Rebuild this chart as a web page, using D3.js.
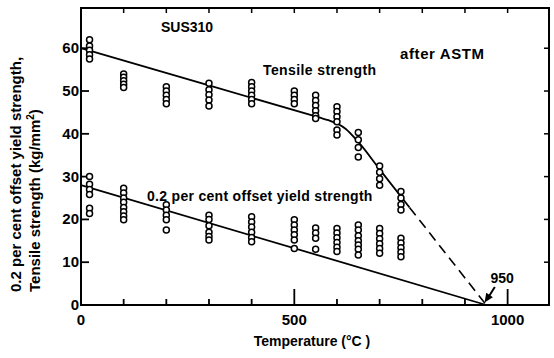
<!DOCTYPE html>
<html>
<head>
<meta charset="utf-8">
<script src="https://cdn.jsdelivr.net/npm/d3@7"></script>
<style>
  html, body { margin: 0; padding: 0; background: #fff; }
  svg { display: block; }
  text { font-family: "Liberation Sans", Arial, sans-serif; font-weight: bold; fill: #000; }
</style>
</head>
<body>
<svg id="chart" width="554" height="358"></svg>
<script>
// ---- data ----
const temperatures = [20, 100, 200, 300, 400, 500, 550, 600, 650, 700, 750];
const tensileValues = [
  [62, 60.5, 59.5, 58.5, 57.5],
  [54, 53.2, 52.4, 51.6, 50.8],
  [51, 50, 49, 48, 47],
  [51.8, 50.3, 49.1, 47.9, 46.5],
  [52, 51, 50, 49, 48, 47],
  [50, 49, 48, 47],
  [49, 47.8, 46.6, 45.4, 44.2, 43.6],
  [46.3, 45.2, 44, 42.8, 40.9, 39.7],
  [40.3, 38.6, 36.8, 34.6],
  [32.5, 31, 29.5, 28],
  [26.5, 25, 23.5, 22.2]
];
const yieldValues = [
  [30, 28.2, 27, 25.8, 22.6, 21.4],
  [27.3, 26.2, 25, 24, 22.8, 21.8, 20.8, 19.9],
  [23.4, 22.2, 21, 19.9, 17.5],
  [21, 20, 18.5, 17, 16, 15.2],
  [20.6, 19.4, 18.2, 17, 15.8, 14.8],
  [19.9, 18.7, 17.5, 16.4, 15.2, 13.2],
  [18, 16.8, 15.6, 13],
  [17.9, 16.8, 15.7, 14.6, 13.5, 12.5],
  [18.7, 17.5, 16.2, 15, 14, 13, 11.7],
  [17.9, 16.7, 15.5, 14.3, 13.2, 12.1],
  [15.6, 14.5, 13.4, 12.3, 11.3]
];
const tensileCurve = [[0, 60], [560, 43.76], [580, 43.18], [620, 41.2], [650, 38.1], [700, 31.7], [770, 22.8]];
const tensileExtrapolation = [[770, 22.8], [950, 0]];
const yieldLine = [[0, 28], [950, 0]];
const xTickLabels = [0, 500, 1000];
const xMinorTicks = [100, 200, 300, 400, 500, 600, 700, 800, 900, 1000];
const xTopTicks = [100, 200, 300, 400, 500, 600, 700, 800, 900, 1000];
const yTickLabels = [0, 10, 20, 30, 40, 50, 60];

// ---- layout ----
const svg = d3.select("#chart");
const L = 81, R = 549, T = 8, B = 305;
const x = d3.scaleLinear().domain([0, 1097]).range([L, R]);
const y = d3.scaleLinear().domain([0, 69.4]).range([B, T]);

svg.append("rect").attr("width", 554).attr("height", 358).attr("fill", "#fff");

// frame
svg.append("rect")
  .attr("x", L).attr("y", T).attr("width", R - L).attr("height", B - T)
  .attr("fill", "none").attr("stroke", "#000").attr("stroke-width", 2);

// bottom axis ticks (inward)
const bottom = svg.append("g");
bottom.selectAll("line.minor").data(xMinorTicks).join("line")
  .attr("x1", d => x(d)).attr("x2", d => x(d))
  .attr("y1", B).attr("y2", d => (d % 500 === 0) ? B - 16 : B - 6)
  .attr("stroke", "#000").attr("stroke-width", 1.8);
bottom.selectAll("text").data(xTickLabels).join("text")
  .attr("x", d => x(d)).attr("y", 325)
  .attr("text-anchor", "middle").attr("font-size", 15)
  .text(d => d);

// top ticks
svg.append("g").selectAll("line").data(xTopTicks).join("line")
  .attr("x1", d => x(d)).attr("x2", d => x(d))
  .attr("y1", T).attr("y2", T + 5)
  .attr("stroke", "#000").attr("stroke-width", 1.5);

// left ticks
const left = svg.append("g");
left.selectAll("line").data(yTickLabels.filter(d => d > 0)).join("line")
  .attr("x1", L).attr("x2", L + 8)
  .attr("y1", d => y(d)).attr("y2", d => y(d))
  .attr("stroke", "#000").attr("stroke-width", 1.8);
left.selectAll("text").data(yTickLabels).join("text")
  .attr("x", 79).attr("y", d => y(d) + 5)
  .attr("text-anchor", "end").attr("font-size", 15)
  .text(d => d);

// right ticks
svg.append("g").selectAll("line").data(yTickLabels.filter(d => d > 0)).join("line")
  .attr("x1", R).attr("x2", R - 5)
  .attr("y1", d => y(d)).attr("y2", d => y(d))
  .attr("stroke", "#000").attr("stroke-width", 1.5);

// lines
const curved = d3.line().x(d => x(d[0])).y(d => y(d[1])).curve(d3.curveMonotoneX);
const straight = d3.line().x(d => x(d[0])).y(d => y(d[1]));
svg.append("path").datum(tensileCurve)
  .attr("d", curved)
  .attr("fill", "none").attr("stroke", "#000").attr("stroke-width", 1.8);
svg.append("path").datum(tensileExtrapolation)
  .attr("d", straight)
  .attr("fill", "none").attr("stroke", "#000").attr("stroke-width", 1.6)
  .attr("stroke-dasharray", "10,6");
svg.append("path").datum(yieldLine)
  .attr("d", straight)
  .attr("fill", "none").attr("stroke", "#000").attr("stroke-width", 1.8);

// points
function flatten(vals) {
  const out = [];
  temperatures.forEach((t, i) => vals[i].forEach(v => out.push([t, v])));
  return out;
}
const pts = flatten(tensileValues).concat(flatten(yieldValues));
svg.append("g").selectAll("circle").data(pts).join("circle")
  .attr("cx", d => x(d[0])).attr("cy", d => y(d[1])).attr("r", 3)
  .attr("fill", "#fff").attr("stroke", "#000").attr("stroke-width", 1.5);

// annotations
svg.append("text").attr("x", 161).attr("y", 32).attr("font-size", 14).text("SUS310");
svg.append("text").attr("x", 400).attr("y", 59).attr("font-size", 15)
  .attr("letter-spacing", 0.6).text("after ASTM");
svg.append("text").attr("x", 263).attr("y", 75).attr("font-size", 14)
  .attr("letter-spacing", 0.4).text("Tensile strength");
svg.append("text").attr("x", 147).attr("y", 201).attr("font-size", 14)
  .attr("letter-spacing", 0.3).text("0.2 per cent offset yield strength");

// 950 label + arrow
svg.append("text").attr("x", x(987)).attr("y", y(6.3) + 5)
  .attr("text-anchor", "middle").attr("font-size", 14).text("950");
const ax1 = x(970), ay1 = y(4.2), ax2 = x(946), ay2 = y(0.6);
svg.append("line").attr("x1", ax1).attr("y1", ay1).attr("x2", ax2 + 3).attr("y2", ay2 - 4)
  .attr("stroke", "#000").attr("stroke-width", 2);
const ang = Math.atan2(ay2 - ay1, ax2 - ax1);
const hl = 9, hw = 4;
const bx = ax2 - hl * Math.cos(ang), by = ay2 - hl * Math.sin(ang);
svg.append("path")
  .attr("d", `M${ax2},${ay2} L${bx + hw * Math.sin(ang)},${by - hw * Math.cos(ang)} L${bx - hw * Math.sin(ang)},${by + hw * Math.cos(ang)} Z`)
  .attr("fill", "#000");

// axis titles
svg.append("text").attr("x", 312).attr("y", 346).attr("text-anchor", "middle")
  .attr("font-size", 14).text("Temperature (°C )");
const yl = svg.append("text").attr("transform", "translate(21,292) rotate(-90)")
  .attr("font-size", 15);
yl.append("tspan").attr("x", 0).attr("y", 0).text("0.2 per cent offset yield strength,");
const yl2 = yl.append("tspan").attr("x", 0).attr("y", 19).text("Tensile strength  (kg/mm");
yl2.append("tspan").attr("font-size", 10).attr("dy", -6).text("2");
yl.append("tspan").attr("dy", 6).text(")");
</script>
</body>
</html>
